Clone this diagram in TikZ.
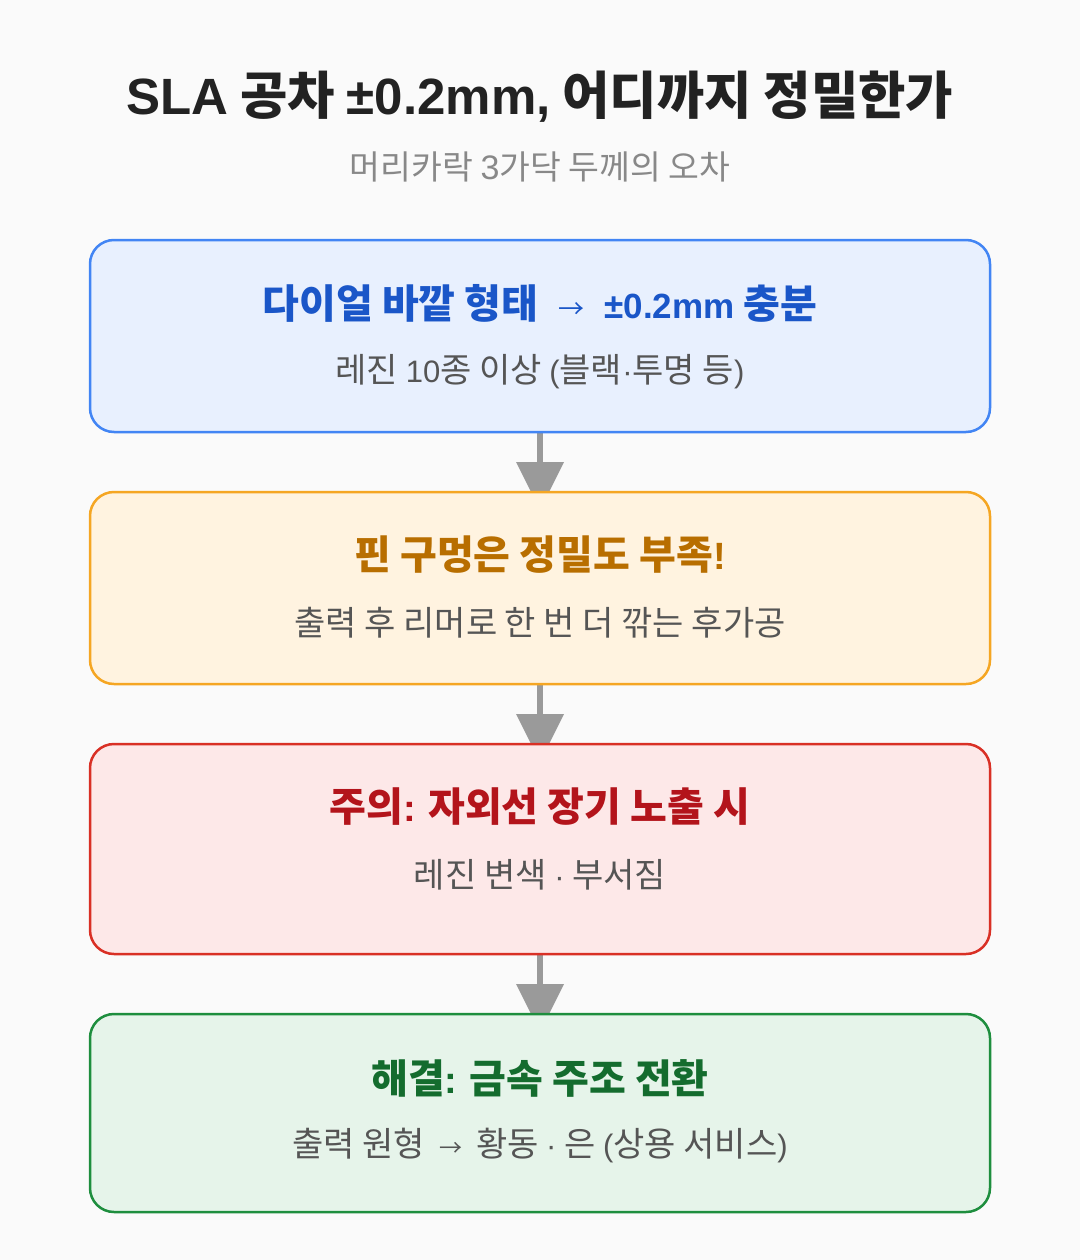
\documentclass[tikz,border=0pt]{standalone}
\usepackage{fontspec}
\setmainfont{Noto Sans CJK KR}
\newfontfamily\lat{Liberation Sans}
\usetikzlibrary{calc}
\newcommand\LT[2]{{\fontsize{#1}{#1}\selectfont\lat #2}}
\newcommand\KR[1]{\fontsize{#1}{#1}\selectfont}
\definecolor{bg}{HTML}{FAFAFA}
\definecolor{titlec}{HTML}{222222}
\definecolor{subc}{HTML}{888888}
\definecolor{bodyc}{HTML}{555555}
\definecolor{arrc}{HTML}{9A9A9A}
\definecolor{bfill}{HTML}{E8F0FE}\definecolor{bdraw}{HTML}{4285F4}\definecolor{btext}{HTML}{1A56C8}
\definecolor{ofill}{HTML}{FFF3E0}\definecolor{odraw}{HTML}{F5A623}\definecolor{otext}{HTML}{B86E00}
\definecolor{rfill}{HTML}{FDE8E8}\definecolor{rdraw}{HTML}{D93025}\definecolor{rtext}{HTML}{B3141B}
\definecolor{gfill}{HTML}{E6F4EA}\definecolor{gdraw}{HTML}{1E8E3E}\definecolor{gtext}{HTML}{146C2E}
\tikzset{
  card/.style={draw, line width=2.5pt, rounded corners=24pt, minimum width=900pt, inner sep=0pt},
  cardtitle/.style={font=\KR{40}\bfseries, anchor=center, inner sep=0pt},
  cardsub/.style={font=\KR{34}, text=bodyc, anchor=center, inner sep=0pt},
  shaft/.style={draw=arrc, line width=6.5pt},
  head/.style={fill=arrc, draw=none},
}
\begin{document}
\begin{tikzpicture}[x=1pt,y=-1pt]
\fill[bg] (0,0) rectangle (1080,1260);
\useasboundingbox (0,0) rectangle (1080,1260);
\node[font=\KR{51.5}\bfseries, text=titlec, inner sep=0pt] (title) at (540,97) {\LT{51}{SLA} 공차 \LT{51}{±0.2mm,} 어디까지 정밀한가};
\node[font=\KR{33.5}, text=subc, inner sep=0pt] (subtitle) at (540,167) {머리카락 \LT{34}{3}가닥 두께의 오차};
% arrows (drawn first, tips hidden behind boxes)
\coordinate (a1s) at (540,432); \coordinate (a1h) at (540,462);
\coordinate (a2s) at (540,684); \coordinate (a2h) at (540,714);
\coordinate (a3s) at (540,954); \coordinate (a3h) at (540,984);
\foreach \s/\h in {a1s/a1h,a2s/a2h,a3s/a3h}{
  \draw[shaft] (\s) -- ($(\h)+(0,1)$);
  \fill[head] ($(\h)+(-24,0)$) -- ($(\h)+(24,0)$) -- ($(\h)+(0,48)$) -- cycle;
}
% cards
\node[card, fill=bfill, draw=bdraw, minimum height=192pt] (c1) at (540,336) {};
\node[card, fill=ofill, draw=odraw, minimum height=192pt] (c2) at (540,588) {};
\node[card, fill=rfill, draw=rdraw, minimum height=210pt] (c3) at (540,849) {};
\node[card, fill=gfill, draw=gdraw, minimum height=198pt] (c4) at (540,1113) {};
% texts
\node[cardtitle, text=btext] (t1) at (540,303) {다이얼 바깥 형태\hspace{20pt}{\KR{26}\mdseries →}\hspace{20pt}\LT{35}{±0.2mm} 충분};
\node[cardsub] (s1) at (540,372) {레진 \LT{31}{10}종 이상 \LT{31}{(}블랙\LT{31}{·}투명 등\LT{31}{)}};
\node[cardtitle, text=otext] (t2) at (540,555) {핀 구멍은 정밀도 부족\LT{38}{!}};
\node[cardsub] (s2) at (540,623) {출력 후 리머로 한 번 더 깎는 후가공};
\node[cardtitle, text=rtext] (t3) at (540,807) {주의\LT{38}{:} 자외선 장기 노출 시};
\node[cardsub] (s3) at (540,875) {레진 변색 \LT{31}{·} 부서짐};
\node[cardtitle, text=gtext] (t4) at (540,1078) {해결\LT{38}{:} 금속 주조 전환};
\node[cardsub] (s4) at (540,1145) {출력 원형\hspace{14pt}{\KR{23}→}\hspace{14pt}황동 \LT{31}{·} 은 \LT{31}{(}상용 서비스\LT{31}{)}};
\end{tikzpicture}
\end{document}
